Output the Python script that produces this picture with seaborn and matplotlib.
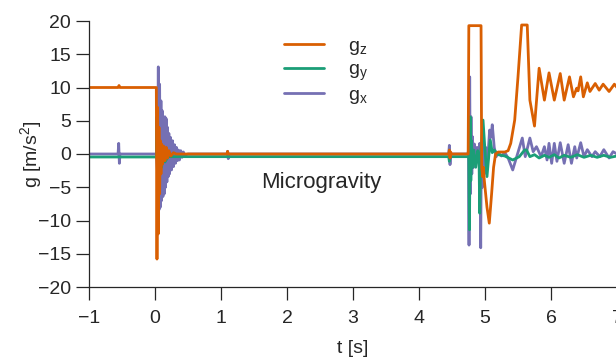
import pandas as pd
import seaborn as sns
import matplotlib
matplotlib.use("Agg")
import matplotlib.pyplot as plt

t_gz = [-1.0, -0.56, -0.545, -0.53, 0.02, 0.03, 0.04, 0.05, 0.06, 0.07, 0.08, 0.09,
        0.10, 0.115, 0.13, 0.15, 0.17, 0.19, 0.21, 0.24, 0.28, 0.32, 1.09, 1.10, 1.11,
        4.45, 4.46, 4.47, 4.48, 4.49, 4.745, 4.755, 4.94, 4.95, 4.965, 4.975, 4.99,
        5.0, 5.03, 5.065, 5.1, 5.13, 5.16, 5.2, 5.3, 5.35, 5.39, 5.45, 5.5, 5.555,
        5.64, 5.68, 5.75, 5.82, 5.90, 5.97, 6.05, 6.14, 6.20, 6.28, 6.34, 6.39, 6.41,
        6.45, 6.49, 6.55, 6.59, 6.67, 6.73, 6.79, 6.88, 6.96, 7.0]
gz = [10.0, 10.0, 10.3, 10.0, 10.0, -15.8, 7.0, -12.0, 4.0, -6.0, 2.0, -3.0,
      1.5, -1.5, 1.2, -1.0, 1.0, -0.6, 0.5, -0.3, 0.2, 0.0, 0.0, 0.4, 0.0,
      0.0, 0.6, -0.6, 0.3, 0.0, 0.0, 19.3, 19.3, -2.0, -3.4, -2.0, -4.0,
      -5.0, -8.0, -10.4, -6.0, -2.0, 0.0, 0.3, 0.3, 0.5, 1.6, 5.1, 11.6, 19.4,
      19.4, 8.1, 4.2, 12.9, 8.1, 12.2, 8.1, 12.1, 8.1, 11.6, 8.6, 9.9, 9.5,
      11.6, 8.6, 10.7, 9.4, 10.6, 9.6, 10.5, 9.4, 10.5, 10.0]

t_gy = [-1.0, 0.02, 0.03, 0.04, 0.05, 0.06, 0.08, 0.10, 0.12, 0.15, 0.2, 4.45,
        4.46, 4.47, 4.74, 4.755, 4.765, 4.775, 4.785, 4.795, 4.81, 4.83, 4.86,
        4.89, 4.91, 4.92, 4.935, 4.97, 5.0, 5.03, 5.06, 5.08, 5.11, 5.14, 5.2,
        5.3, 5.42, 5.52, 5.6, 5.63, 5.68, 5.75, 5.82, 5.9, 5.97, 6.05, 6.12, 6.2,
        6.3, 6.4, 6.5, 6.6, 6.7, 6.8, 6.9, 7.0]
gy = [-0.45, -0.45, 5.6, -4.0, 3.0, -3.0, 1.5, -2.0, 0.5, -1.2, -0.4, -0.4,
      -1.1, -0.4, -0.4, -0.4, -11.4, 5.6, -4.0, 2.0, -2.0, 0.6, -2.0,
      0.5, -1.0, -8.9, 0.0, 5.1, 0.5, -3.4, 0.0, 2.1, 0.2, 0.6, -0.1,
      -0.3, -0.9, -0.4, 0.6, 0.6, -0.4, -0.1, -0.6, -0.2, -0.5, -0.1, -0.6, -0.2,
      -0.5, -0.1, -0.5, -0.2, -0.5, -0.2, -0.5, -0.3]

t_gx = [-1.0, -0.56, -0.55, -0.54, -0.53, 0.02, 0.04, 0.05, 0.06, 0.07, 0.08,
        0.09, 0.10, 0.11, 0.12, 0.13, 0.14, 0.15, 0.16, 0.17, 0.18, 0.19, 0.20,
        0.21, 0.22, 0.235, 0.25, 0.265, 0.28, 0.295, 0.31, 0.325, 0.34, 0.355,
        0.37, 0.39, 0.41, 0.43, 0.45, 0.5, 1.09, 1.10, 1.11, 1.12, 4.45, 4.46,
        4.47, 4.48, 4.74, 4.75, 4.758, 4.768, 4.778, 4.788, 4.80, 4.81, 4.825,
        4.84, 4.86, 4.88, 4.90, 4.92, 4.935, 4.945, 4.96, 4.975, 4.99, 5.01,
        5.04, 5.07, 5.09, 5.11, 5.14, 5.17, 5.2, 5.25, 5.3, 5.35, 5.42, 5.565,
        5.61, 5.68, 5.73, 5.78, 5.85, 5.90, 5.94, 5.97, 6.01, 6.05, 6.09, 6.14,
        6.20, 6.26, 6.31, 6.36, 6.39, 6.45, 6.50, 6.55, 6.62, 6.67, 6.74, 6.80,
        6.88, 6.94, 7.0]
gx = [0.0, 0.0, 1.6, -1.4, 0.0, 0.0, -3.0, 13.1, -8.4, 10.5, -8.0,
      8.0, -7.0, 6.5, -6.4, 5.5, -6.0, 5.6, -5.0, 5.3, -4.2, 4.0, -3.4,
      3.1, -3.0, 2.5, -2.4, 2.0, -1.9, 1.4, -1.4, 1.0, -1.0, 0.6,
      -0.9, 0.5, -0.5, 0.3, -0.2, 0.0, 0.0, 0.4, -0.7, 0.0, 0.0, 1.3,
      -1.6, 0.0, 0.0, 0.5, -13.7, 11.6, -6.0, 5.6, -3.0, 2.6, -2.0,
      1.5, -1.5, 1.0, -1.0, 1.6, -14.1, 1.6, -5.0, 2.0, -3.0, 1.0,
      -1.0, 3.6, 2.5, 4.4, 1.0, -0.4, 0.2, -0.3, 0.2, -0.6, -2.4, 2.4,
      -0.4, 2.4, 0.35, 1.1, -0.4, 1.1, -0.9, 1.6, -1.4, 1.6, -1.1, 1.7,
      -1.4, 1.4, -1.4, 1.1, -0.6, 1.7, -0.4, 0.65, -0.4, 0.35, -0.4, 0.65,
      -0.6, 0.35, 0.0]

x_ticks = [-1, 0, 1, 2, 3, 4, 5, 6, 7]
y_ticks = [-20, -15, -10, -5, 0, 5, 10, 15, 20]


def main():
    sns.set_style("ticks")
    plt.rcParams["font.family"] = ["Liberation Sans", "DejaVu Sans"]
    plt.rcParams["mathtext.default"] = "regular"

    cores = sns.color_palette("Dark2", 3)
    cor_z, cor_y, cor_x = cores[1], cores[0], cores[2]

    fig = plt.figure(figsize=(6.16, 3.59), dpi=100)
    ax = fig.add_axes([89 / 616, 72 / 359, 528 / 616, 266 / 359])

    # ordem de desenho: gx por baixo, gz por cima
    sns.lineplot(x=t_gx, y=gx, ax=ax, color=cor_x, lw=2, estimator=None, sort=False,
                 label=r"$\mathregular{g_x}$")
    sns.lineplot(x=t_gy, y=gy, ax=ax, color=cor_y, lw=2, estimator=None, sort=False,
                 label=r"$\mathregular{g_y}$")
    sns.lineplot(x=t_gz, y=gz, ax=ax, color=cor_z, lw=2, estimator=None, sort=False,
                 label=r"$\mathregular{g_z}$")

    ax.set_xlim(-1, 7)
    ax.set_ylim(-20, 20)
    ax.set_xticks(x_ticks)
    ax.set_yticks(y_ticks)
    ax.tick_params(labelsize=14, length=9.4, width=0.9, direction="out")
    ax.tick_params(axis="x", pad=7.5)
    ax.tick_params(axis="y", pad=3.5)
    for s in ax.spines.values():
        s.set_linewidth(0.9)
    ax.set_xlabel("t [s]", fontsize=14, labelpad=9)
    ax.set_ylabel(r"g [m/s$^2$]", fontsize=14, labelpad=-4)
    sns.despine(ax=ax)

    ax.text(2.525, -4.3, "Microgravity", fontsize=16, ha="center", va="center")

    h, l = ax.get_legend_handles_labels()
    ax.legend(h[::-1], l[::-1], loc="center left", bbox_to_anchor=(0.35, 0.809),
              frameon=False, fontsize=14, borderpad=0, handlelength=2.06,
              handletextpad=1.25, labelspacing=0.2)

    fig.savefig("out.png", dpi=100)


if __name__ == "__main__":
    main()
